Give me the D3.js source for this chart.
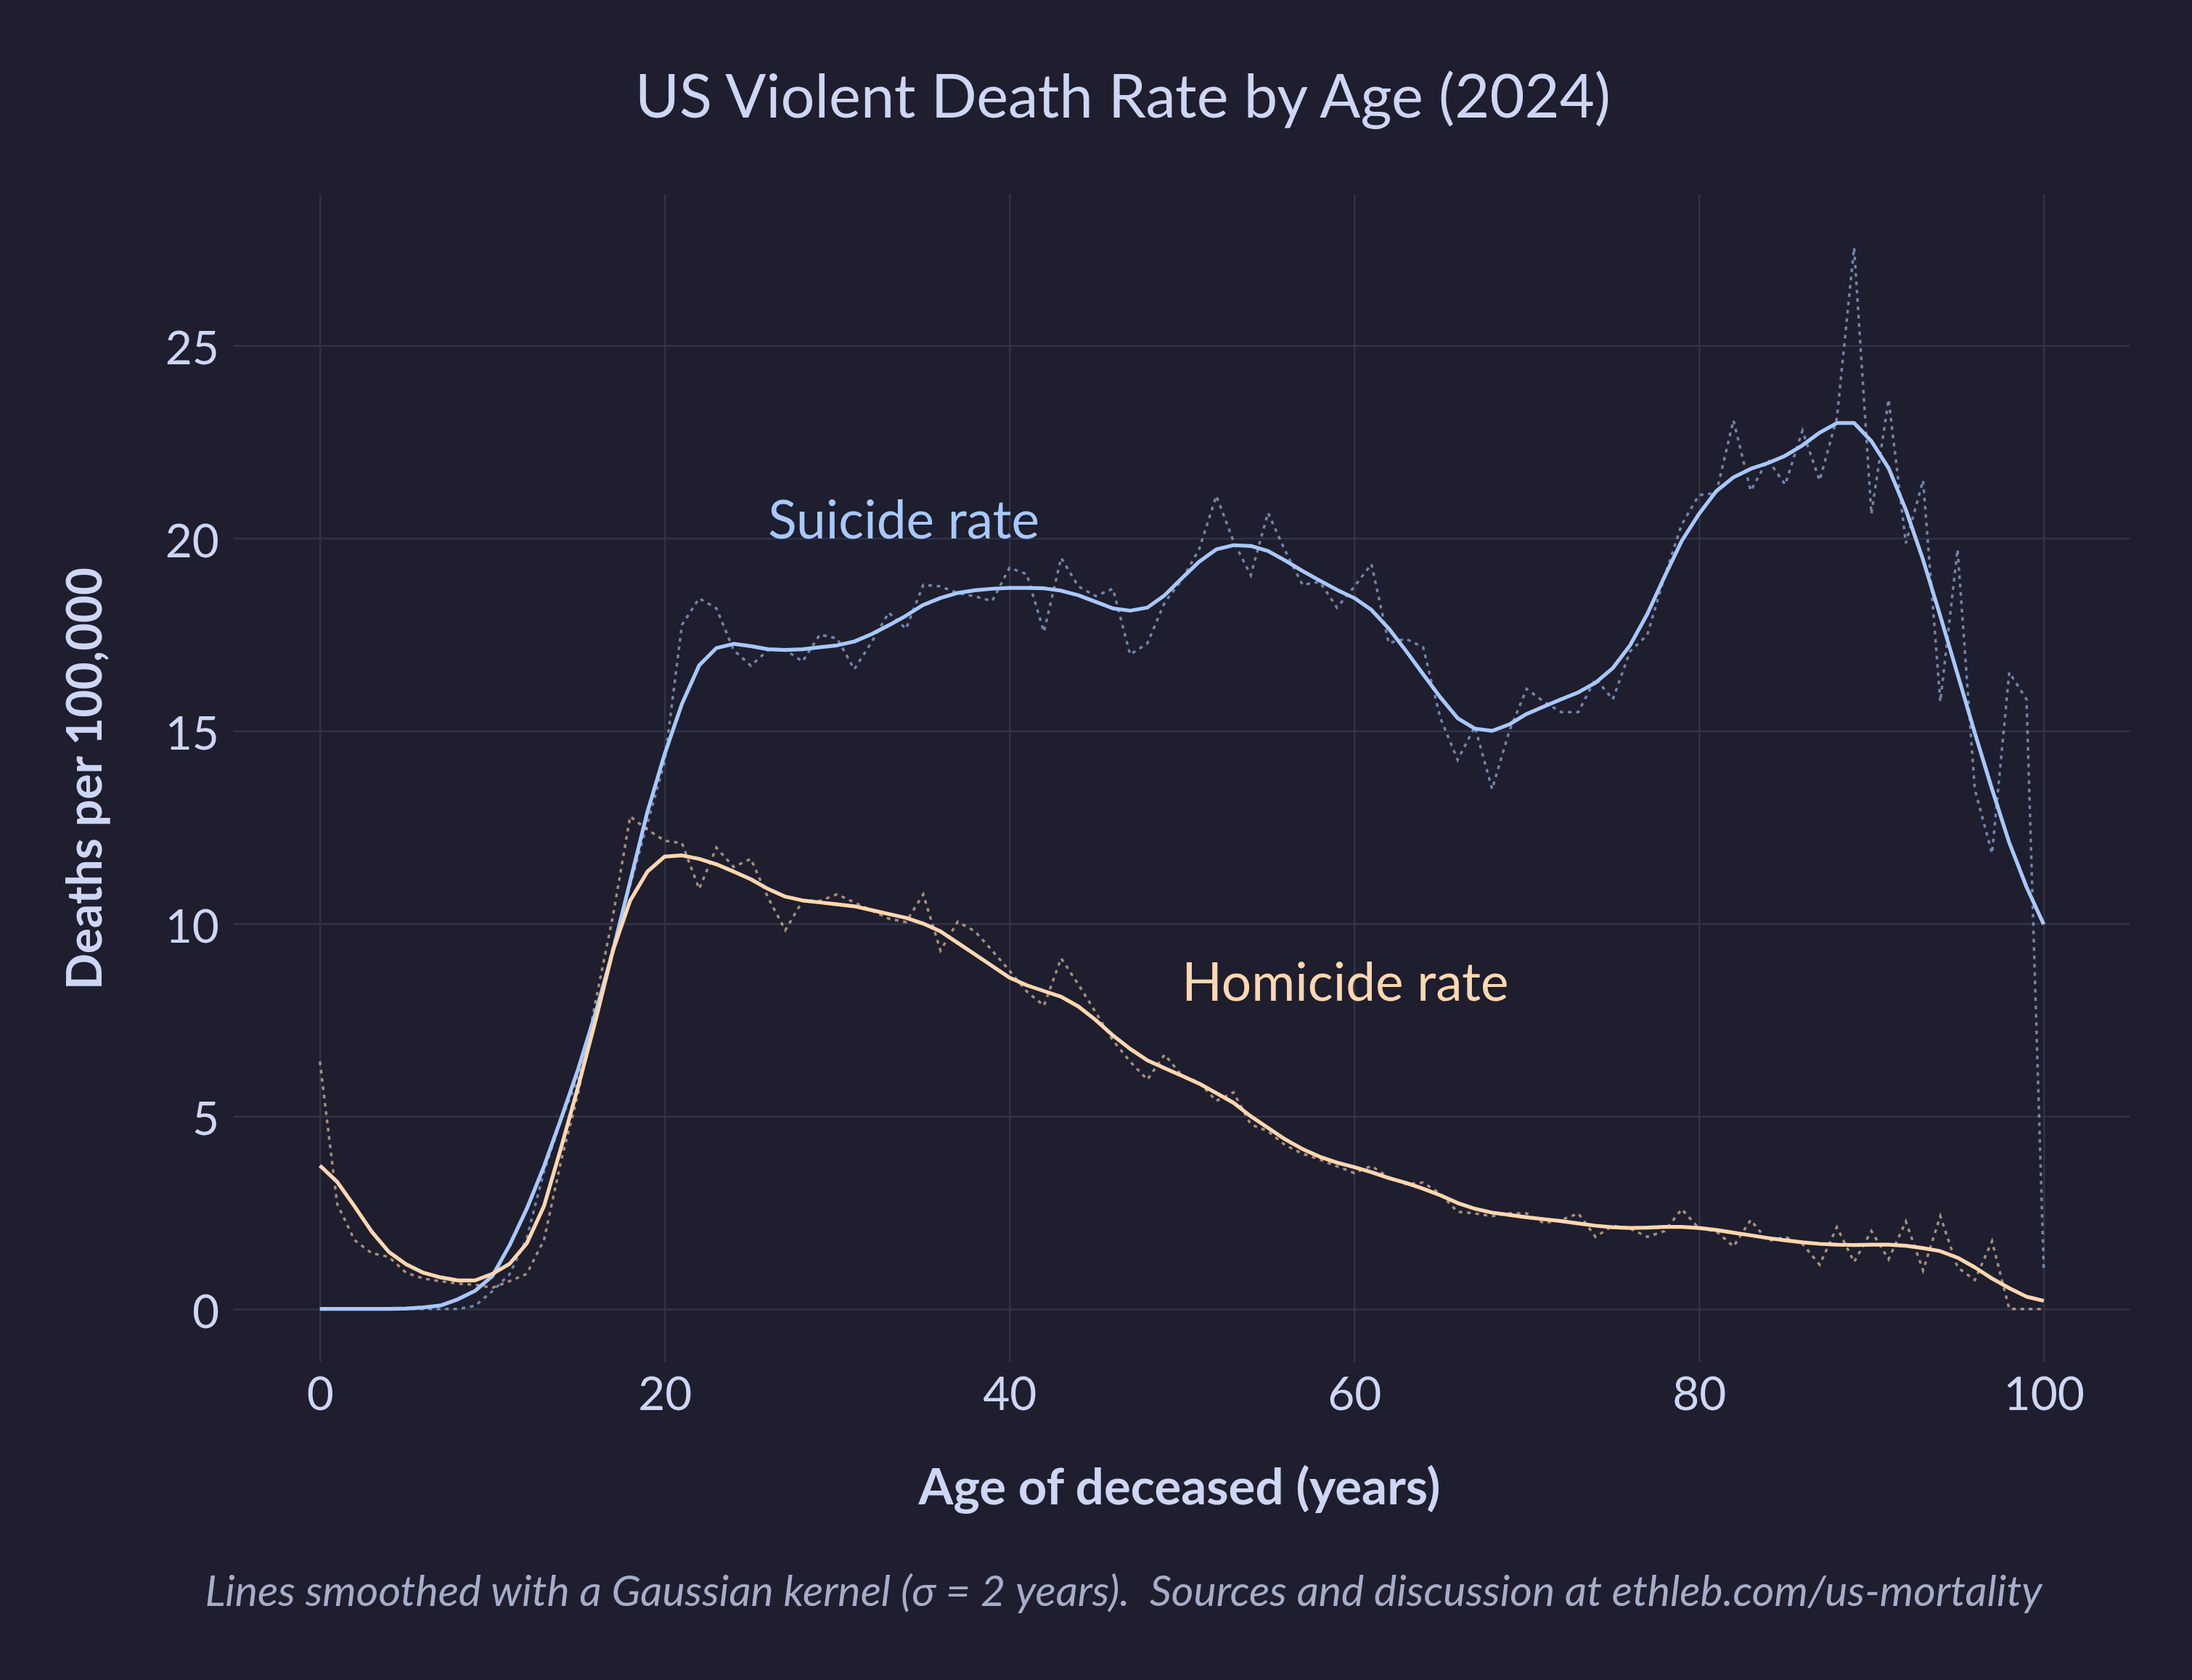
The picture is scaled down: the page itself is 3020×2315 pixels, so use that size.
<!DOCTYPE html>
<html>
<head>
<meta charset="utf-8">
<script src="https://cdn.jsdelivr.net/npm/d3@7"></script>
<style>
  body { margin: 0; background: #1e1e2e; }
  svg { display: block; }
</style>
</head>
<body>
<script>
// ages of the deceased, one point per year
var ages = d3.range(0, 101);

// raw yearly suicide rate (dotted line)
var suicideRaw = [
  0, 0, 0, 0, 0, 0, 0, 0, 0, 0.08,
  0.46, 0.9, 1.84, 3.57, 4.92, 6.0, 7.6, 9.4, 11.0, 12.6,
  14.2, 17.75, 18.44, 18.18, 17.1, 16.69, 17.1, 17.1, 16.8, 17.5,
  17.4, 16.6, 17.3, 18.07, 17.65, 18.79, 18.75, 18.58, 18.49, 18.37,
  19.23, 19.07, 17.57, 19.49, 18.75, 18.5, 18.69, 16.98, 17.27, 18.33,
  18.92, 19.71, 21.1, 19.92, 19.04, 20.66, 19.67, 18.79, 18.87, 18.2,
  18.74, 19.33, 17.28, 17.39, 17.17, 15.33, 14.25, 15.11, 13.49, 15.0,
  16.09, 15.76, 15.49, 15.49, 16.36, 15.82, 17.06, 17.49, 19.0, 20.36,
  21.12, 21.17, 23.06, 21.23, 22.04, 21.39, 22.79, 21.5, 23.12, 27.54,
  20.63, 23.6, 19.87, 21.5, 15.76, 19.71, 13.49, 11.82, 16.52, 15.82,
  1.0
];

// smoothed suicide rate (solid line)
var suicideSmooth = [
  0, 0, 0, 0, 0, 0.01, 0.04, 0.09, 0.25, 0.47,
  0.85, 1.65, 2.6, 3.7, 4.95, 6.25, 7.7, 9.3, 11.1, 12.9,
  14.4, 15.7, 16.7, 17.15, 17.26, 17.2, 17.12, 17.1, 17.12, 17.17,
  17.22, 17.32, 17.51, 17.74, 17.99, 18.27, 18.45, 18.58, 18.65, 18.69,
  18.71, 18.71, 18.7, 18.64, 18.52, 18.35, 18.18, 18.12, 18.2, 18.52,
  18.96, 19.39, 19.71, 19.82, 19.8, 19.67, 19.42, 19.15, 18.9, 18.66,
  18.45, 18.14, 17.66, 17.08, 16.47, 15.87, 15.33, 15.06, 15.0, 15.17,
  15.44, 15.63, 15.82, 16.0, 16.25, 16.63, 17.22, 18.03, 19.0, 19.93,
  20.63, 21.22, 21.58, 21.8, 21.95, 22.14, 22.41, 22.74, 22.99, 22.99,
  22.52, 21.82, 20.74, 19.44, 17.98, 16.47, 14.95, 13.49, 12.1, 10.95,
  9.98
];

// raw yearly homicide rate (dotted line)
var homicideRaw = [
  6.42, 2.73, 1.79, 1.45, 1.35, 0.94, 0.79, 0.72, 0.66, 0.63,
  0.55, 0.72, 0.91, 1.79, 3.86, 5.62, 8.0, 10.2, 12.78, 12.44,
  12.15, 12.09, 10.9, 11.97, 11.47, 11.68, 10.67, 9.83, 10.59, 10.59,
  10.76, 10.55, 10.34, 10.13, 10.04, 10.76, 9.3, 10.05, 9.8, 9.3,
  8.78, 8.24, 7.87, 9.1, 8.42, 7.7, 6.97, 6.42, 5.95, 6.6,
  6.06, 5.88, 5.4, 5.62, 4.79, 4.61, 4.25, 4.03, 3.88, 3.7,
  3.53, 3.71, 3.42, 3.24, 3.28, 2.99, 2.52, 2.48, 2.41, 2.48,
  2.48, 2.23, 2.31, 2.48, 1.87, 2.16, 2.09, 1.87, 2.02, 2.59,
  2.09, 2.02, 1.62, 2.31, 1.76, 1.87, 1.69, 1.15, 2.12, 1.22,
  2.02, 1.29, 2.27, 1.0, 2.41, 1.08, 0.75, 1.76, 0, 0,
  0
];

// smoothed homicide rate (solid line)
var homicideSmooth = [
  3.72, 3.3, 2.67, 2.01, 1.48, 1.16, 0.94, 0.82, 0.74, 0.74,
  0.91, 1.17, 1.7, 2.67, 4.2, 5.8, 7.5, 9.3, 10.6, 11.35,
  11.74, 11.77, 11.68, 11.54, 11.35, 11.15, 10.9, 10.7, 10.6, 10.55,
  10.5, 10.45, 10.35, 10.25, 10.15, 10.0, 9.8, 9.5, 9.2, 8.9,
  8.6, 8.4, 8.25, 8.1, 7.85, 7.5, 7.1, 6.75, 6.45, 6.25,
  6.05, 5.85, 5.6, 5.35, 5.0, 4.7, 4.4, 4.15, 3.95, 3.8,
  3.68, 3.55, 3.4, 3.27, 3.12, 2.95, 2.75, 2.6, 2.5, 2.44,
  2.38, 2.33, 2.28, 2.22, 2.16, 2.12, 2.1, 2.11, 2.13, 2.13,
  2.1, 2.05, 1.98, 1.91, 1.84, 1.78, 1.73, 1.69, 1.67, 1.66,
  1.67, 1.67, 1.64, 1.58, 1.5, 1.33, 1.08, 0.79, 0.54, 0.32,
  0.21
];

// tick values for both axes
var xTicks = [0, 20, 40, 60, 80, 100];
var yTicks = [0, 5, 10, 15, 20, 25];

// series labels, placed at data coordinates
var labels = [
  { text: "Suicide rate", age: 26, rate: 20, colour: "#a8c8fc" },
  { text: "Homicide rate", age: 50, rate: 8, colour: "#ffd7b0" }
];

// defines the size of the SVG
var width = 3020;
var height = 2315;

// defines the padding for the plot area
var pad = { top: 268, bottom: height - 1877, left: 322, right: width - 2934.5 };

var font = "Lato, 'Open Sans', sans-serif";
var textColour = "#cdd6f4";
var gridColour = "#313244";

// creates the SVG element in the html-body
var svg = d3.select("body")
            .append("svg")
            .attr("width", width)
            .attr("height", height);

// creates the background of the SVG-element
svg.append("rect")
   .attr("width", "100%")
   .attr("height", "100%")
   .attr("fill", "#1e1e2e");

// rescales ages and rates to the plot area
var xScale = d3.scaleLinear()
               .domain([-5, 105])
               .range([pad.left, width - pad.right]);
var yScale = d3.scaleLinear()
               .domain([-1.38, 28.92])
               .range([height - pad.bottom, pad.top]);

// vertical gridlines with tick labels underneath
var xAxis = d3.axisBottom(xScale)
              .tickValues(xTicks)
              .tickFormat(d3.format("d"))
              .tickSize(-(height - pad.bottom - pad.top))
              .tickPadding(21);
var gx = svg.append("g")
            .attr("transform", "translate(0," + (height - pad.bottom) + ")")
            .call(xAxis);

// horizontal gridlines with tick labels on the left
var yAxis = d3.axisLeft(yScale)
              .tickValues(yTicks)
              .tickFormat(d3.format("d"))
              .tickSize(-(width - pad.right - pad.left))
              .tickPadding(20);
var gy = svg.append("g")
            .attr("transform", "translate(" + pad.left + ",0)")
            .call(yAxis);

// styles both axes like the dark theme
[gx, gy].forEach(function(g){
  g.select(".domain").remove();
  g.selectAll("line")
   .attr("stroke", gridColour)
   .attr("stroke-width", 2.5);
  g.selectAll("text")
   .attr("fill", textColour)
   .style("font-family", font)
   .style("font-size", "64px");
});
gy.selectAll("text").attr("dy", "0.4em");

// line generator shared by every series
var line = function(values){
  return d3.line()
           .x(function(d, i){ return xScale(ages[i]); })
           .y(function(d){ return yScale(d); })(values);
};

// raw series as faint dotted lines
var rawSeries = [
  { values: suicideRaw, colour: "#a8c8fc" },
  { values: homicideRaw, colour: "#ffd7b0" }
];
rawSeries.forEach(function(s){
  svg.append("path")
     .attr("d", line(s.values))
     .attr("fill", "none")
     .attr("stroke", s.colour)
     .attr("stroke-opacity", 0.6)
     .attr("stroke-width", 3.5)
     .attr("stroke-dasharray", "5,6.5");
});

// smoothed series as solid lines
var smoothSeries = [
  { values: suicideSmooth, colour: "#a8c8fc" },
  { values: homicideSmooth, colour: "#ffd7b0" }
];
smoothSeries.forEach(function(s){
  svg.append("path")
     .attr("d", line(s.values))
     .attr("fill", "none")
     .attr("stroke", s.colour)
     .attr("stroke-width", 5.2)
     .attr("stroke-linejoin", "round");
});

// labels next to each line
svg.selectAll(".series-label")
   .data(labels)
   .enter()
   .append("text")
   .attr("class", "series-label")
   .attr("x", function(d){ return xScale(d.age); })
   .attr("y", function(d){ return yScale(d.rate); })
   .attr("fill", function(d){ return d.colour; })
   .style("font-family", font)
   .style("font-size", "73px")
   .text(function(d){ return d.text; });

// chart title
svg.append("text")
   .attr("x", 1547)
   .attr("y", 162)
   .attr("text-anchor", "middle")
   .attr("fill", textColour)
   .style("font-family", font)
   .style("font-size", "83px")
   .text("US Violent Death Rate by Age (2024)");

// x-axis title
svg.append("text")
   .attr("x", 1625)
   .attr("y", 2073)
   .attr("text-anchor", "middle")
   .attr("fill", textColour)
   .style("font-family", font)
   .style("font-weight", "bold")
   .style("font-size", "69px")
   .text("Age of deceased (years)");

// y-axis title
svg.append("text")
   .attr("transform", "translate(140,1073) rotate(-90)")
   .attr("text-anchor", "middle")
   .attr("fill", textColour)
   .style("font-family", font)
   .style("font-weight", "bold")
   .style("font-size", "66px")
   .text("Deaths per 100,000");

// caption under the chart (keeps the double space)
svg.append("text")
   .attr("x", 1548)
   .attr("y", 2213)
   .attr("text-anchor", "middle")
   .attr("fill", "#a6adc8")
   .style("font-family", font)
   .style("font-style", "italic")
   .style("font-size", "59px")
   .style("white-space", "pre")
   .text("Lines smoothed with a Gaussian kernel (σ = 2 years).  Sources and discussion at ethleb.com/us-mortality");
</script>
</body>
</html>
